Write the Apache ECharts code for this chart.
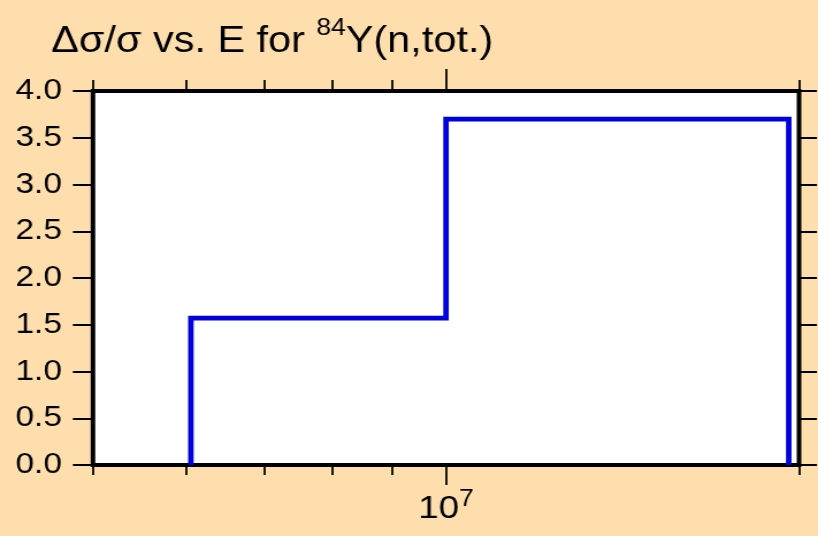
<!DOCTYPE html>
<html>
<head>
<meta charset="utf-8">
<script src="https://cdn.jsdelivr.net/npm/echarts@6/dist/echarts.min.js"></script>
<style>
  html, body { margin: 0; padding: 0; background: #FFDEAD; overflow: hidden; }
  /* the original lettering is wide, so the chart is drawn narrower and stretched */
  #chart { width: 711px; height: 536px; transform: scaleX(1.1505); transform-origin: 0 0; }
</style>
</head>
<body>
<div id="chart"></div>
<script>
// energy bin edges (eV) and relative uncertainty in each bin
const binEdges = [6.06e6, 1.0e7, 1.96e7]
const binValues = [1.57, 3.70]

// axis ranges and tick positions
const xMin = 5e6
const xMax = 2e7
const xMinorTicks = [5e6, 6e6, 7e6, 8e6, 9e6, 2e7]
const xMajorTicks = [1e7]
const yMin = 0
const yMax = 4
const yStep = 0.5

const FONT = '"Liberation Sans", Arial, sans-serif'

// step outline: drop to zero at both ends
const stepPoints = [[binEdges[0], 0]]
binValues.forEach((v, i) => {
  stepPoints.push([binEdges[i], v], [binEdges[i + 1], v])
})
stepPoints.push([binEdges[binEdges.length - 1], 0])

const logMin = Math.log10(xMin)
const logMax = Math.log10(xMax)

// extra axes in log10 space, only used to draw the ticks of the log axis
function tickAxis(position, values, len, withLabel) {
  return {
    type: 'value',
    position: position,
    min: logMin,
    max: logMax,
    axisLine: { show: false },
    splitLine: { show: false },
    axisTick: {
      show: true,
      inside: false,
      length: len,
      customValues: values.map(Math.log10),
      lineStyle: { color: '#000', width: 1.8 }
    },
    axisLabel: withLabel ? {
      show: true,
      margin: 23,
      fontSize: 32,
      fontFamily: FONT,
      color: '#000',
      customValues: values.map(Math.log10),
      formatter: (v) => '{b|10}{s|' + Math.round(v) + '}',
      rich: {
        b: { fontSize: 32, fontFamily: FONT, fontWeight: 'normal', color: '#000', lineHeight: 42 },
        s: { fontSize: 23, fontFamily: FONT, fontWeight: 'normal', color: '#000', lineHeight: 42, verticalAlign: 'top' }
      }
    } : { show: false }
  }
}

const chart = echarts.init(document.getElementById('chart'))

const option = {
  backgroundColor: '#FFDEAD',
  animation: false,
  title: {
    text: '{m|Δσ/σ vs. E for }{s|84}{m|Y(n,tot.)}',
    left: 39.5,
    top: 12,
    textStyle: {
      fontWeight: 'normal',
      rich: {
        m: { fontSize: 36, fontFamily: FONT, fontWeight: 'normal', color: '#000', lineHeight: 50 },
        s: { fontSize: 23, fontFamily: FONT, fontWeight: 'normal', color: '#000', lineHeight: 50, verticalAlign: 'top' }
      }
    }
  },
  grid: {
    left: 80.8,
    right: 16.5,
    top: 91,
    bottom: 71,
    show: true,
    backgroundColor: '#fff',
    borderColor: '#000',
    borderWidth: 4
  },
  xAxis: [
    {
      type: 'log',
      logBase: 10,
      min: xMin,
      max: xMax,
      show: false
    },
    tickAxis('bottom', xMinorTicks, 10, false),
    tickAxis('bottom', xMajorTicks, 20, true),
    tickAxis('top', xMinorTicks, 11, false),
    tickAxis('top', xMajorTicks, 22, false)
  ],
  yAxis: [
    {
      type: 'value',
      position: 'left',
      min: yMin,
      max: yMax,
      interval: yStep,
      axisLine: { show: false },
      splitLine: { show: false },
      axisTick: { show: true, inside: false, length: 17.4, lineStyle: { color: '#000', width: 2 } },
      axisLabel: {
        margin: 27,
        fontSize: 29,
        fontFamily: FONT,
        color: '#000',
        formatter: (v) => v.toFixed(1)
      }
    },
    {
      type: 'value',
      position: 'right',
      min: yMin,
      max: yMax,
      interval: yStep,
      axisLine: { show: false },
      splitLine: { show: false },
      axisTick: { show: true, inside: false, length: 15.6, lineStyle: { color: '#000', width: 2 } },
      axisLabel: { show: false }
    }
  ],
  series: [
    {
      type: 'line',
      xAxisIndex: 0,
      yAxisIndex: 0,
      data: stepPoints,
      showSymbol: false,
      symbol: 'none',
      lineStyle: { color: '#0000dd', width: 4.8, join: 'miter' },
      z: 3
    }
  ]
}

chart.setOption(option)
</script>
</body>
</html>
